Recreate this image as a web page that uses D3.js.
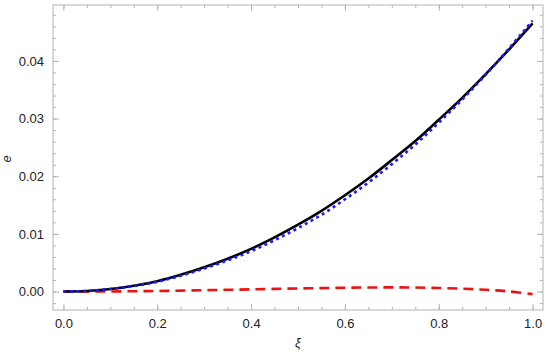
<!DOCTYPE html>
<html>
<head>
<meta charset="utf-8">
<script src="https://cdn.jsdelivr.net/npm/d3@7"></script>
<style>
  body { margin: 0; background: #fff; }
  svg { display: block; font-family: "Liberation Sans", Arial, sans-serif; }
</style>
</head>
<body>
<section></section>
<script>
// xi values
const xi = [0, 0.05, 0.1, 0.15, 0.2, 0.25, 0.3, 0.35, 0.4, 0.45, 0.5,
            0.55, 0.6, 0.65, 0.7, 0.75, 0.8, 0.85, 0.9, 0.95, 1.0];
// black solid curve
const eSolid = [0, 0.0001, 0.00045, 0.0010, 0.0018, 0.0029, 0.0042, 0.0057, 0.0074, 0.0094, 0.0116,
                0.0140, 0.0167, 0.0196, 0.0228, 0.0261, 0.0298, 0.0336, 0.0377, 0.0420, 0.0465];
// blue dotted curve
const eDotted = [0, 0.0001, 0.00043, 0.00095, 0.0017, 0.00274, 0.0040, 0.0054, 0.0070, 0.0089, 0.0110,
                 0.0133, 0.0160, 0.0189, 0.0221, 0.0255, 0.0293, 0.0333, 0.0376, 0.0422, 0.0470];
// red dashed curve
const eDashed = [0, 0, 0.00002, 0.00005, 0.0001, 0.00016, 0.00023, 0.0003, 0.00038, 0.00046, 0.00053,
                 0.0006, 0.00066, 0.0007, 0.00072, 0.0007, 0.00062, 0.0005, 0.0003, 0.00002, -0.00045];

const xTicks = [0, 0.2, 0.4, 0.6, 0.8, 1.0];
const yTicks = [0, 0.01, 0.02, 0.03, 0.04];

const width = 550;
const height = 357;
const marginTop = 5;
const marginRight = 7;
const marginBottom = 47;
const marginLeft = 53;

const frameColor = "#b3b3b3";
const textColor = "#222";

const x = d3.scaleLinear()
    .domain([-0.0222, 1.0222])
    .range([marginLeft, width - marginRight]);

const y = d3.scaleLinear()
    .domain([-0.0032, 0.0497])
    .range([height - marginBottom, marginTop]);

const svg = d3.select("section")
    .append("svg")
    .attr("width", width)
    .attr("height", height)
    .attr("viewBox", [0, 0, width, height]);

// Ejes con marcas en los cuatro lados (estilo marco)
const xMinor = d3.range(0, 1.0001, 0.05);
const yMinor = d3.range(-0.002, 0.0491, 0.002);

function styleAxis(g) {
    g.select(".domain").remove();
    g.selectAll("line").attr("stroke", frameColor);
    g.selectAll("text").attr("fill", textColor).attr("font-size", 13);
}

// minor ticks
svg.append("g")
    .attr("transform", `translate(0,${height - marginBottom})`)
    .call(d3.axisBottom(x).tickValues(xMinor).tickSize(-3).tickFormat(""))
    .call(styleAxis);
svg.append("g")
    .attr("transform", `translate(0,${marginTop})`)
    .call(d3.axisTop(x).tickValues(xMinor).tickSize(-3).tickFormat(""))
    .call(styleAxis);
svg.append("g")
    .attr("transform", `translate(${marginLeft},0)`)
    .call(d3.axisLeft(y).tickValues(yMinor).tickSize(-3).tickFormat(""))
    .call(styleAxis);
svg.append("g")
    .attr("transform", `translate(${width - marginRight},0)`)
    .call(d3.axisRight(y).tickValues(yMinor).tickSize(-3).tickFormat(""))
    .call(styleAxis);

// major ticks
svg.append("g")
    .attr("transform", `translate(0,${height - marginBottom})`)
    .call(d3.axisBottom(x).tickValues(xTicks).tickSize(-6).tickPadding(9).tickFormat(d3.format(".1f")))
    .call(styleAxis);
svg.append("g")
    .attr("transform", `translate(0,${marginTop})`)
    .call(d3.axisTop(x).tickValues(xTicks).tickSize(-6).tickFormat(""))
    .call(styleAxis);
svg.append("g")
    .attr("transform", `translate(${marginLeft},0)`)
    .call(d3.axisLeft(y).tickValues(yTicks).tickSize(-6).tickPadding(9).tickFormat(d3.format(".2f")))
    .call(styleAxis);
svg.append("g")
    .attr("transform", `translate(${width - marginRight},0)`)
    .call(d3.axisRight(y).tickValues(yTicks).tickSize(-6).tickFormat(""))
    .call(styleAxis);

// marco
svg.append("rect")
    .attr("x", marginLeft)
    .attr("y", marginTop)
    .attr("width", width - marginLeft - marginRight)
    .attr("height", height - marginTop - marginBottom)
    .attr("fill", "none")
    .attr("stroke", frameColor);

const line = d3.line()
    .x((d, i) => x(xi[i]))
    .y(d => y(d))
    .curve(d3.curveCatmullRom);

svg.append("path")
    .datum(eDashed)
    .attr("fill", "none")
    .attr("stroke", "#ee1111")
    .attr("stroke-width", 2.6)
    .attr("stroke-dasharray", "10,6")
    .attr("d", line);

svg.append("path")
    .datum(eSolid)
    .attr("fill", "none")
    .attr("stroke", "#000")
    .attr("stroke-width", 2.6)
    .attr("d", line);

svg.append("path")
    .datum(eDotted)
    .attr("fill", "none")
    .attr("stroke", "#1a1aff")
    .attr("stroke-width", 2.6)
    .attr("stroke-dasharray", "3,3.5")
    .attr("d", line);

// etiquetas de ejes
svg.append("text")
    .attr("x", (x(0) + x(1)) / 2)
    .attr("y", 347)
    .attr("text-anchor", "middle")
    .attr("font-style", "italic")
    .attr("font-size", 13)
    .attr("fill", textColor)
    .text("ξ");

svg.append("text")
    .attr("transform", `translate(11,${y(0.023)}) rotate(-90)`)
    .attr("text-anchor", "middle")
    .attr("font-style", "italic")
    .attr("font-size", 13)
    .attr("fill", textColor)
    .text("e");
</script>
</body>
</html>
